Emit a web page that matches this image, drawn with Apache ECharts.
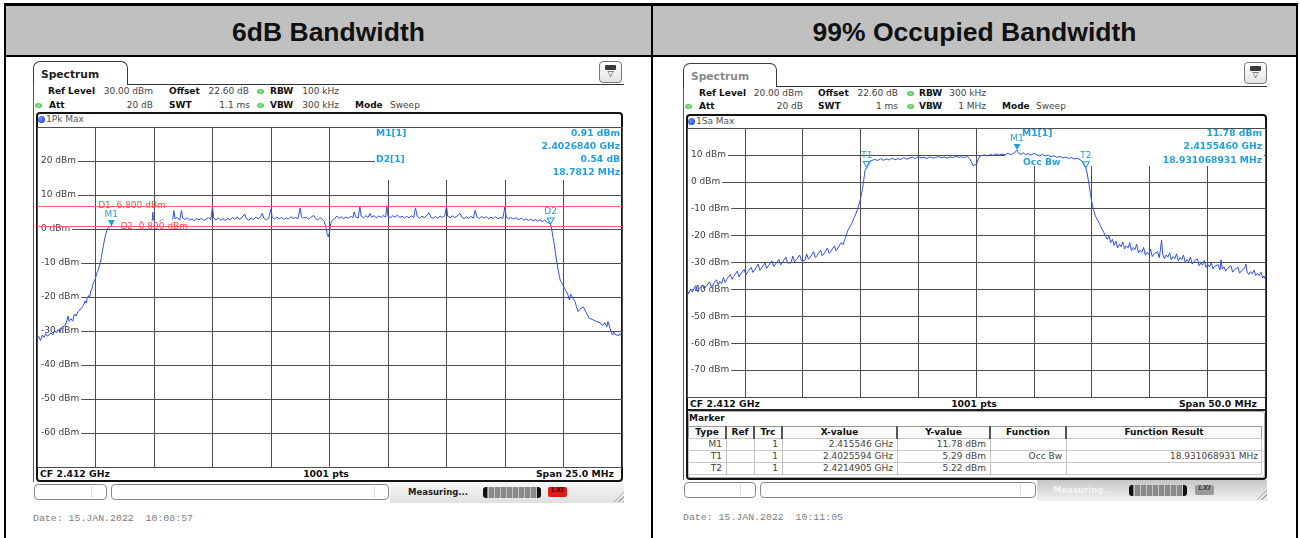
<!DOCTYPE html>
<html>
<head>
<meta charset="utf-8">
<title>6dB Bandwidth / 99% Occupied Bandwidth</title>
<script src="https://cdn.jsdelivr.net/npm/echarts@6.0.0/dist/echarts.min.js"></script>
<style>
  html, body { margin: 0; padding: 0; }
  body { width: 1300px; height: 538px; position: relative; overflow: hidden; background: #fff; font-family: "DejaVu Sans", sans-serif; }
  #chart { position: absolute; left: 0; top: 0; width: 1300px; height: 538px; z-index: 2; }
</style>
</head>
<body>
<div id="page"></div>
<div id="chart"></div>
<script>
// ---------- values read off the two analyser screens ----------
// x = sweep point index (1001 pts), y = level in dBm
var range6dB = [-70, 30];
var rangeObw = [-80, 20];

var trace6dB = [
  [0,-32.4],[3,-31.6],[6,-32.8],[9,-31.2],[12,-31.9],[15,-30.8],[18,-31.5],[21,-32.0],[24,-30.6],[27,-31.2],
  [30,-29.8],[33,-30.5],[36,-29.6],[39,-30.4],[42,-29.0],[45,-29.5],[48,-28.4],[51,-27.0],[53,-25.6],[55,-27.2],
  [58,-26.4],[61,-27.1],[64,-25.0],[67,-25.6],[70,-24.4],[73,-24.8],[76,-23.2],[79,-22.6],[82,-21.2],[84,-21.8],
  [86,-20.4],[88,-19.6],[90,-20.3],[92,-18.2],[94,-17.6],[96,-16.0],[98,-15.2],[100,-14.6],[102,-13.0],[104,-12.4],
  [106,-11.2],[108,-10.0],[110,-8.4],[112,-6.2],[114,-4.4],[116,-2.6],[118,-1.2],[120,-0.2],[122,0.4],[124,0.6],
  [127,0.91],[129,1.8],[131,2.6],[132,null],
  [177,2.3],[179,2.0],[180,null],
  [197,2.4],[198,4.9],[199,2.6],[200,null],
  [210,2.2],[212,2.6],[213,null],[214,2.8],[216,2.5],[217,null],
  [232,2.8],[234,5.4],[236,3.0],[240,3.4],[244,2.6],[247,5.5],[249,3.2],[253,2.8],[257,3.3],[261,2.6],
  [265,3.0],[269,2.4],[273,3.1],[277,2.7],[281,3.2],[285,2.5],[289,2.9],[293,3.4],[297,2.8],[300,6.6],
  [302,3.2],[306,2.7],[310,3.3],[314,2.6],[318,3.0],[322,2.5],[326,3.1],[330,2.7],[334,3.4],[338,2.9],
  [342,3.6],[346,2.8],[350,3.3],[355,4.4],[358,3.0],[362,2.6],[366,3.2],[370,2.8],[374,3.5],[378,3.0],
  [382,3.6],[385,4.6],[388,3.1],[392,2.7],[396,3.2],[400,5.9],[402,3.4],[406,2.9],[410,3.5],[414,3.0],
  [418,3.4],[422,2.8],[426,3.3],[430,2.9],[434,3.6],[438,3.1],[442,3.4],[446,3.0],[450,6.2],[452,3.6],
  [456,3.2],[460,3.5],[464,2.9],[468,3.4],[473,4.0],[476,3.1],[480,2.7],[484,3.3],[488,2.8],[491,2.2],
  [494,0.4],[496,-1.6],[498,-2.3],[500,-0.8],[502,1.6],[505,2.6],[509,3.2],[513,3.8],[516,3.1],[520,3.6],
  [524,3.0],[528,3.5],[532,3.1],[536,3.8],[540,3.3],[542,5.0],[545,3.6],[549,3.2],[552,6.7],[554,3.8],
  [558,3.3],[562,3.9],[566,3.4],[569,4.6],[572,3.5],[576,3.9],[580,3.3],[584,3.8],[588,3.4],[592,4.0],
  [596,3.5],[598,6.9],[600,3.8],[604,3.3],[608,3.9],[612,3.5],[616,4.1],[620,3.4],[624,3.8],[628,3.2],
  [632,3.7],[636,3.3],[640,3.9],[644,3.4],[647,6.2],[650,3.7],[654,3.2],[658,3.8],[662,3.3],[666,3.9],
  [670,4.8],[673,3.6],[677,3.1],[681,3.7],[685,3.2],[689,3.8],[693,3.4],[697,3.9],[700,6.9],[702,3.8],
  [706,3.3],[710,3.9],[714,3.4],[718,3.8],[723,4.6],[726,3.5],[730,3.0],[734,3.6],[738,3.1],[742,3.7],
  [746,3.2],[749,5.5],[752,3.6],[756,3.1],[760,3.7],[764,3.2],[768,3.6],[772,3.0],[776,3.5],[780,3.1],
  [784,3.6],[788,3.0],[792,3.4],[796,3.1],[800,6.5],[802,3.5],[806,3.0],[810,3.4],[814,2.9],[818,3.3],
  [821,3.8],[824,2.8],[828,3.2],[832,2.6],[836,3.0],[840,2.5],[844,2.9],[848,2.4],[852,2.8],[856,2.3],
  [860,2.7],[864,2.2],[868,2.6],[872,2.0],[875,1.8],[878,1.45],[880,-0.3],[882,-2.4],[884,-4.2],[886,-6.8],
  [888,-9.1],[890,-11.2],[893,-14.0],[895,-15.4],[898,-16.0],[901,-17.2],[903,-16.8],[905,-18.4],[908,-19.6],[910,-20.9],
  [912,-19.2],[914,-19.4],[917,-20.6],[920,-21.4],[922,-22.8],[925,-24.3],[928,-23.6],[931,-24.0],[934,-22.9],[937,-23.3],
  [940,-25.0],[942,-24.6],[944,-26.3],[947,-25.8],[950,-26.6],[953,-26.1],[957,-27.3],[960,-26.8],[963,-27.6],[966,-28.4],
  [968,-28.2],[971,-27.6],[974,-28.8],[976,-27.2],[978,-27.3],[980,-29.4],[982,-30.6],[984,-31.2],[986,-30.2],[988,-31.0],
  [991,-30.7],[994,-31.4],[996,-30.8],[998,-31.2],[1000,-31.6]
];

var traceObw = [
  [0,-40.2],[3,-41.6],[6,-39.8],[9,-41.0],[12,-40.4],[15,-38.6],[18,-40.8],[21,-39.6],[24,-40.3],[27,-38.4],
  [30,-39.9],[33,-38.9],[36,-39.6],[39,-37.2],[42,-39.0],[45,-38.1],[48,-38.8],[51,-36.4],[54,-38.3],[57,-37.0],
  [60,-37.9],[63,-35.6],[66,-37.4],[69,-36.2],[72,-36.9],[75,-34.4],[78,-36.3],[81,-35.1],[84,-35.8],[87,-33.2],
  [90,-35.4],[93,-34.3],[96,-34.9],[99,-32.6],[102,-34.6],[105,-33.4],[108,-34.1],[111,-31.8],[114,-33.7],[117,-32.8],
  [120,-33.4],[123,-30.6],[126,-32.9],[129,-32.0],[132,-32.6],[135,-30.2],[138,-32.2],[141,-31.2],[144,-31.9],[147,-29.4],
  [150,-31.5],[153,-30.6],[156,-31.2],[159,-28.8],[162,-30.9],[165,-30.0],[168,-30.6],[171,-28.0],[174,-30.2],[177,-29.5],
  [180,-30.1],[183,-27.6],[186,-29.8],[189,-29.0],[192,-29.6],[195,-27.2],[198,-29.3],[201,-28.6],[204,-29.2],[207,-26.8],
  [210,-28.8],[213,-28.0],[216,-28.6],[219,-26.0],[222,-28.2],[225,-27.4],[228,-27.9],[231,-25.4],[234,-27.5],[237,-26.7],
  [240,-27.1],[243,-24.6],[246,-26.6],[249,-25.8],[252,-26.2],[255,-23.8],[258,-25.6],[261,-24.6],[264,-24.9],[267,-22.6],
  [270,-23.4],[272,-22.0],[274,-21.0],[276,-20.4],[278,-18.2],[280,-17.4],[283,-16.2],[286,-15.0],[289,-13.4],[292,-12.0],
  [295,-10.2],[298,-8.2],[300,-6.4],[302,-4.4],[304,-2.2],[306,1.0],[308,4.2],[311,5.29],[314,6.9],[317,7.8],
  [320,7.6],[325,8.3],[330,7.9],[335,8.6],[340,8.0],[345,8.5],[350,8.1],[355,8.8],[360,8.2],[365,8.6],
  [370,8.3],[375,9.0],[380,8.4],[385,8.8],[390,9.2],[395,8.6],[400,9.4],[405,8.9],[410,9.1],[415,8.7],
  [420,9.3],[425,8.8],[430,9.0],[435,9.4],[440,8.9],[445,9.2],[450,8.8],[455,9.3],[460,9.0],[465,9.5],
  [470,9.1],[475,9.3],[480,9.0],[485,9.4],[489,8.6],[492,7.4],[495,6.0],[498,5.4],[501,6.6],[504,8.4],
  [507,9.6],[510,9.3],[515,10.0],[520,9.6],[525,10.2],[530,9.8],[535,10.4],[540,9.9],[545,10.3],[550,10.0],
  [555,10.6],[560,10.1],[565,10.5],[568,10.9],[571,11.78],[574,10.6],[578,10.2],[582,10.8],[586,10.0],[590,10.5],
  [595,9.9],[600,10.6],[605,10.1],[610,9.7],[615,10.2],[620,9.6],[625,9.9],[630,9.3],[635,9.7],[640,9.1],
  [645,9.4],[650,8.9],[655,9.2],[660,8.7],[665,9.0],[670,8.5],[675,8.8],[680,8.2],[684,7.6],[687,6.6],
  [690,5.22],[692,3.6],[694,1.0],[696,-1.6],[698,-4.4],[700,-7.2],[703,-10.2],[706,-12.4],[709,-13.8],[712,-14.9],
  [715,-16.2],[718,-17.6],[721,-18.8],[724,-19.2],[727,-21.4],[730,-20.2],[733,-22.6],[736,-21.4],[739,-23.6],[742,-22.0],
  [745,-24.6],[748,-23.2],[751,-24.1],[754,-22.4],[757,-25.0],[760,-23.8],[763,-24.6],[766,-22.6],[769,-25.6],[772,-24.4],
  [775,-25.3],[778,-23.2],[781,-26.4],[784,-25.4],[787,-26.2],[790,-24.4],[793,-27.3],[796,-26.2],[799,-27.0],[802,-25.0],
  [805,-27.8],[808,-26.8],[811,-27.5],[814,-26.0],[817,-28.2],[819,-25.4],[821,-21.6],[823,-26.8],[826,-28.6],[829,-27.2],
  [832,-28.0],[835,-26.4],[838,-29.0],[841,-27.8],[844,-28.6],[847,-26.8],[850,-29.4],[853,-28.2],[856,-29.0],[859,-27.2],
  [862,-30.0],[865,-28.9],[868,-29.7],[871,-28.0],[874,-30.6],[877,-29.6],[880,-30.3],[883,-28.6],[886,-31.2],[889,-30.2],
  [892,-31.0],[895,-29.2],[898,-31.8],[901,-30.8],[904,-31.6],[907,-30.0],[910,-32.4],[913,-31.4],[916,-32.1],[919,-30.8],
  [922,-32.8],[924,-29.0],[926,-32.4],[929,-31.6],[932,-33.2],[935,-32.2],[938,-32.9],[941,-31.2],[944,-33.6],[947,-32.7],
  [950,-33.4],[953,-31.8],[956,-34.0],[959,-33.1],[962,-33.8],[965,-32.0],[967,-30.6],[969,-33.6],[972,-34.5],[975,-33.4],
  [978,-34.2],[981,-32.8],[984,-34.9],[987,-34.0],[990,-34.8],[993,-33.6],[996,-35.8],[998,-35.0],[1000,-36.0]
];

// display lines (6 dB screen)
var displayLines = [['D1', 6.8], ['D2', 0.8]];
// markers: name, point index, level
var markers6dB = [['M1', 127, 0.91], ['D2', 878, 1.45]];
var markersObw = [['T1', 311, 5.29], ['M1', 571, 11.78], ['T2', 690, 5.22]];
// marker result fields
var info6dB = [['M1[1]', '0.91 dBm', '2.4026840 GHz'], ['D2[1]', '0.54 dB', '18.7812 MHz']];
var infoObw = ['M1[1]', '11.78 dBm', '2.4155460 GHz', '18.931068931 MHz'];
// marker table (99% screen)
var tableHead = ['Type', 'Ref', 'Trc', 'X-value', 'Y-value', 'Function', 'Function Result'];
var tableRows = [
  ['M1', '', '1', '2.415546 GHz', '11.78 dBm', '', ''],
  ['T1', '', '1', '2.4025594 GHz', '5.29 dBm', 'Occ Bw', '18.931068931 MHz'],
  ['T2', '', '1', '2.4214905 GHz', '5.22 dBm', '', '']
];

// ---------- static screen furniture (html) ----------
var page = document.getElementById('page');
function el(x, y, w, h, css) {
  var d = document.createElement('div');
  d.style.cssText = 'position:absolute;box-sizing:border-box;left:' + x + 'px;top:' + y + 'px;width:' + w +
    'px;height:' + h + 'px;' + (css || '');
  page.appendChild(d);
  return d;
}
function txt(x, cy, s, font, color, align) {
  var d = document.createElement('div');
  var shift = align === 'right' ? 'translateX(-100%)' : (align === 'center' ? 'translateX(-50%)' : 'none');
  d.style.cssText = 'position:absolute;white-space:pre;left:' + x + 'px;top:' + (cy - 5.5) +
    'px;height:14px;line-height:14px;font:' + font + ';color:' + color + ';transform:' + shift + ';';
  d.textContent = s;
  page.appendChild(d);
  return d;
}
var FB = 'bold 9px "DejaVu Sans", sans-serif';
var FR = '9px "DejaVu Sans", sans-serif';
var FB2 = 'bold 9.3px "DejaVu Sans", sans-serif';
var FMONO = '9.9px "Liberation Mono", monospace';
var FTITLE = 'bold 26.5px "Liberation Sans", Arial, sans-serif';

function icon(x, y) {
  el(x, y, 23, 22, 'border:1px solid #777;border-radius:4px;background:linear-gradient(#fff,#e4e4e4)');
  el(x + 6, y + 4, 11, 5, 'background:#3a3a3a;border-radius:1px');
  txt(x + 11.5, y + 13, '\u25BD', '8px "DejaVu Sans"', '#333', 'center');
}
function led(x, y) {
  el(x, y, 7, 5, 'border-radius:50%;background:radial-gradient(#9e9,#3a3)');
}
function blueDot(x, y) {
  el(x, y, 7, 7, 'border-radius:50%;background:radial-gradient(circle at 35% 35%,#7390ff,#1232c8)');
}
function progress(x, y) {
  el(x, y, 58, 11, 'border-radius:3px;background:linear-gradient(90deg,#111 0 4px,transparent 4px 54px,#111 54px),' +
    'repeating-linear-gradient(90deg,#8a8a8a 0 5px,#c4c4c4 5px 6px)');
}
function grip(x, y) {
  el(x, y, 13, 13, 'background:repeating-linear-gradient(135deg,transparent 0 2px,#a8a8a8 2px 3px);' +
    'clip-path:polygon(100% 0,100% 100%,0 100%)');
}
function title(cx, s) {
  var d = el(cx - 250, 17, 500, 32, 'text-align:center;line-height:32px;font:' + FTITLE + ';color:#111;');
  d.textContent = s;
}

// table grid + header cells
el(4, 3, 1294, 3, 'background:#000');
el(6, 6, 1290, 49, 'background:#c0c0c0');
el(4, 55, 1294, 2, 'background:#000');
el(4, 3, 2, 535, 'background:#000');
el(651, 3, 2, 535, 'background:#000');
el(1296, 3, 2, 535, 'background:#000');
title(328.5, '6dB Bandwidth');
title(974.5, '99% Occupied Bandwidth');

// ---- left screen (6dB) ----
el(33, 61, 95, 24, 'border:1px solid #3a3a3a;border-bottom:none;border-radius:7px 7px 0 0');
txt(41, 73, 'Spectrum', 'bold 10.7px "DejaVu Sans"', '#222');
el(127, 84, 497, 1, 'background:#333');
el(33, 85, 1, 397, 'background:#5a5a5a');
icon(599, 61);
txt(48, 91, 'Ref Level', FB, '#111'); txt(153, 91, '30.00 dBm', FR, '#444', 'right');
txt(169, 91, 'Offset', FB, '#111'); txt(249, 91, '22.60 dB', FR, '#444', 'right');
led(257, 89); txt(270, 91, 'RBW', FB, '#111'); txt(339, 91, '100 kHz', FR, '#444', 'right');
led(35, 103); txt(49, 105, 'Att', FB, '#111'); txt(153, 105, '20 dB', FR, '#444', 'right');
txt(169, 105, 'SWT', FB, '#111'); txt(250, 105, '1.1 ms', FR, '#444', 'right');
led(257, 103); txt(270, 105, 'VBW', FB, '#111'); txt(339, 105, '300 kHz', FR, '#444', 'right');
txt(355, 105, 'Mode', FB, '#111'); txt(390, 105, 'Sweep', FR, '#444');
el(36, 112, 587, 370, 'border:2px solid #141414;border-radius:4px');
blueDot(38, 116); txt(46, 119, '1Pk Max', FR, '#555');
txt(40, 473.5, 'CF 2.412 GHz', FB2, '#111');
txt(326, 473.5, '1001 pts', FB2, '#111', 'center');
txt(614, 473.5, 'Span 25.0 MHz', FB2, '#111', 'right');
el(34, 484, 73, 16, 'border:1px solid #8a8a8a;border-radius:4px');
el(91, 486, 1, 12, 'background:#ddd');
el(111, 484, 278, 16, 'border:1px solid #8a8a8a;border-radius:4px');
el(374, 486, 1, 12, 'background:#ddd');
el(390, 482, 234, 21, 'background:linear-gradient(#f7f7f7,#e0e0e0)');
txt(408, 492, 'Measuring...', 'bold 8.5px "DejaVu Sans"', '#222');
progress(483, 487);
el(548, 487, 19, 10, 'background:#e01a1a;border-radius:2px');
txt(557.5, 491.5, 'LXI', 'italic bold 7px "DejaVu Sans"', '#5a0000', 'center');
grip(611, 489);
txt(33, 518, 'Date: 15.JAN.2022  10:08:57', FMONO, '#808080');

// ---- right screen (99% OBW) ----
el(683, 63, 94, 24, 'border:1px solid #3a3a3a;border-bottom:none;border-radius:7px 7px 0 0');
txt(691, 75, 'Spectrum', 'bold 10.7px "DejaVu Sans"', '#8a8a8a');
el(776, 86, 491, 1, 'background:#333');
el(683, 87, 1, 393, 'background:#5a5a5a');
icon(1244, 62);
txt(699, 93, 'Ref Level', FB, '#111'); txt(803, 93, '20.00 dBm', FR, '#444', 'right');
txt(818, 93, 'Offset', FB, '#111'); txt(898, 93, '22.60 dB', FR, '#444', 'right');
led(907, 91); txt(919, 93, 'RBW', FB, '#111'); txt(986, 93, '300 kHz', FR, '#444', 'right');
led(685, 104); txt(699, 106, 'Att', FB, '#111'); txt(803, 106, '20 dB', FR, '#444', 'right');
txt(818, 106, 'SWT', FB, '#111'); txt(898, 106, '1 ms', FR, '#444', 'right');
led(907, 104); txt(919, 106, 'VBW', FB, '#111'); txt(986, 106, '1 MHz', FR, '#444', 'right');
txt(1002, 106, 'Mode', FB, '#111'); txt(1036, 106, 'Sweep', FR, '#444');
el(686, 114, 581, 366, 'border:2px solid #141414;border-radius:4px');
blueDot(688, 118); txt(696, 121, '1Sa Max', FR, '#555');
txt(690, 403, 'CF 2.412 GHz', FB2, '#111');
txt(974, 403, '1001 pts', FB2, '#111', 'center');
txt(1257, 403, 'Span 50.0 MHz', FB2, '#111', 'right');
el(688, 409, 577, 2, 'background:#222');
el(688, 411, 577, 67, 'border:1px solid #aaa;border-radius:3px');
txt(689, 418, 'Marker', FB, '#111');
var cols = [688, 726, 754, 782, 897, 990, 1066, 1262];
el(688, 426, 574, 13, 'border:1px solid #9a9a9a;background:#fafafa');
for (var r = 0; r < tableRows.length; r++) {
  el(688, 438 + r * 12, 574, 13, 'border:1px solid #c8c8c8');
}
for (var c = 0; c < cols.length - 1; c++) {
  if (c > 0) {
    el(cols[c] - 1, 426, 2, 13, 'background:#555');
    el(cols[c], 439, 1, 36, 'background:#c4c4c4');
  }
  txt((cols[c] + cols[c + 1]) / 2, 432.5, tableHead[c], FB, '#111', 'center');
  for (var r2 = 0; r2 < tableRows.length; r2++) {
    if (tableRows[r2][c]) txt(cols[c + 1] - 4, 444.5 + r2 * 12, tableRows[r2][c], FR, '#444', 'right');
  }
}
el(684, 482, 72, 16, 'border:1px solid #8a8a8a;border-radius:4px');
el(740, 484, 1, 12, 'background:#ddd');
el(760, 482, 276, 16, 'border:1px solid #8a8a8a;border-radius:4px');
el(1020, 484, 1, 12, 'background:#ddd');
el(1037, 480, 230, 21, 'background:linear-gradient(#c6c6c6,#f2f2f2)');
txt(1053, 490, 'Measuring...', 'bold 8.5px "DejaVu Sans"', '#f4f4f4');
progress(1129, 485);
el(1195, 485, 19, 10, 'background:#9a9a9a;border-radius:2px');
txt(1204.5, 489.5, 'LXI', 'italic bold 7px "DejaVu Sans"', '#444', 'center');
grip(1254, 487);
txt(683, 517, 'Date: 15.JAN.2022  10:11:05', FMONO, '#808080');

// ---------- the two traces (echarts) ----------
var TRACE = '#2f4ff2', MARK = '#1fa0e6', DLINE = '#ff6262';
var TRI = 'path://M0,0L10,0L5,9Z';
var chart = echarts.init(document.getElementById('chart'));

function xAxisFor(g) {
  return {
    type: 'value', gridIndex: g, min: 0, max: 1000, interval: 100,
    axisLine: { show: false }, axisTick: { show: false }, axisLabel: { show: false },
    splitLine: { show: true, lineStyle: { color: '#4d4d4d', width: 1 } }
  };
}
function yAxisFor(g, range) {
  return {
    type: 'value', gridIndex: g, min: range[0], max: range[1], interval: 10,
    axisLine: { show: false }, axisTick: { show: false },
    splitLine: { show: true, lineStyle: { color: '#4d4d4d', width: 1 } },
    axisLabel: {
      inside: true, margin: 1, showMinLabel: false, showMaxLabel: false,
      color: '#3c3c3c', fontSize: 9, fontFamily: 'DejaVu Sans',
      backgroundColor: '#fff', padding: [1, 2, 1, 3],
      formatter: function (v) { return v + ' dBm'; }
    }
  };
}
function markerPoints(list) {
  return list.map(function (m) {
    var filled = m[0].charAt(0) === 'M';
    return {
      coord: [m[1], m[2]], symbol: TRI, symbolSize: [7, 6], symbolOffset: [0, -3],
      itemStyle: filled ? { color: MARK } : { color: 'rgba(0,0,0,0)', borderColor: MARK, borderWidth: 1 },
      label: { show: true, position: 'top', distance: 1, formatter: m[0], color: MARK, fontSize: 9, fontFamily: 'DejaVu Sans' }
    };
  });
}
function gtext(x, y, s, align) {
  return {
    type: 'text', x: x, y: y, z: 5, silent: true,
    style: {
      text: s, fill: MARK, font: 'bold 9.2px "DejaVu Sans"',
      align: align, textAlign: align, verticalAlign: 'middle', textVerticalAlign: 'middle'
    }
  };
}

var dlineLabels = displayLines.map(function (d, i) {
  return {
    coord: [i === 0 ? 102 : 140, d[1]], symbol: 'rect', symbolSize: 1, itemStyle: { color: 'rgba(0,0,0,0)' },
    label: { show: true, position: 'right', distance: 1, formatter: d[0] + '  ' + d[1].toFixed(3) + ' dBm',
      color: '#ff4c4c', fontSize: 9, fontFamily: 'DejaVu Sans' }
  };
});

chart.setOption({
  backgroundColor: 'transparent',
  animation: false,
  grid: [
    { left: 37, top: 127, width: 585, height: 340, outerBoundsMode: 'none' },
    { left: 687, top: 128, width: 578, height: 269, outerBoundsMode: 'none' }
  ],
  xAxis: [xAxisFor(0), xAxisFor(1)],
  yAxis: [yAxisFor(0, range6dB), yAxisFor(1, rangeObw)],
  series: [
    {
      type: 'line', xAxisIndex: 0, yAxisIndex: 0, data: trace6dB, showSymbol: false, symbol: 'none',
      connectNulls: false, silent: true, z: 2, lineStyle: { color: TRACE, width: 1 },
      markLine: {
        silent: true, symbol: 'none', label: { show: false },
        lineStyle: { color: DLINE, width: 1, type: 'solid' },
        data: displayLines.map(function (d) { return { yAxis: d[1] }; })
      },
      markPoint: { silent: true, data: markerPoints(markers6dB).concat(dlineLabels) }
    },
    {
      type: 'line', xAxisIndex: 1, yAxisIndex: 1, data: traceObw, showSymbol: false, symbol: 'none',
      silent: true, z: 2, lineStyle: { color: TRACE, width: 1 },
      markPoint: { silent: true, data: markerPoints(markersObw) }
    }
  ],
  graphic: {
    elements: [
      { type: 'rect', z: 1, silent: true, shape: { x: 375, y: 128, width: 246, height: 52 }, style: { fill: '#fff' } },
      gtext(376, 134, info6dB[0][0], 'left'), gtext(620, 134, info6dB[0][1], 'right'), gtext(620, 147, info6dB[0][2], 'right'),
      gtext(376, 160, info6dB[1][0], 'left'), gtext(620, 160, info6dB[1][1], 'right'), gtext(620, 173, info6dB[1][2], 'right'),
      { type: 'rect', z: 1, silent: true, shape: { x: 1005, y: 129, width: 259, height: 37 }, style: { fill: '#fff' } },
      gtext(1022, 134, infoObw[0], 'left'), gtext(1262, 134, infoObw[1], 'right'),
      gtext(1262, 147, infoObw[2], 'right'), gtext(1262, 161, infoObw[3], 'right'),
      gtext(1023, 163, tableRows[1][5], 'left')
    ]
  }
});
</script>
</body>
</html>
